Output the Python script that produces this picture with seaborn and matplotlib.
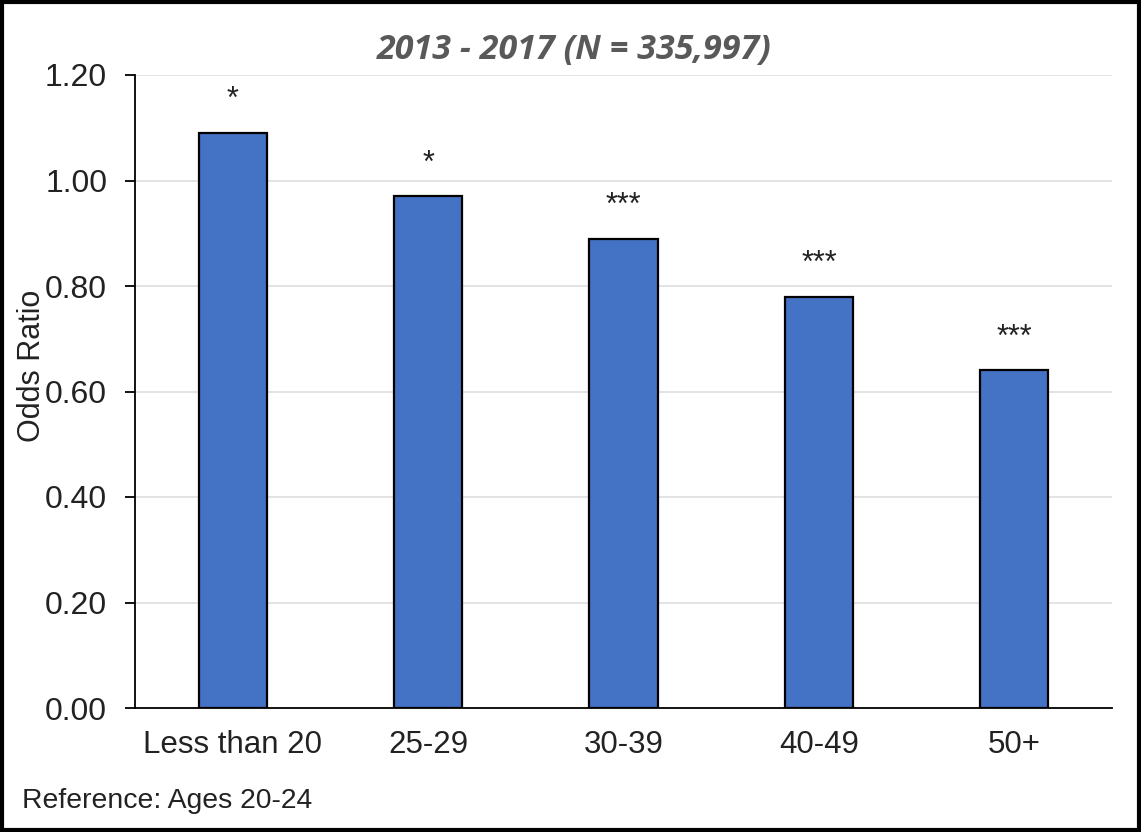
import matplotlib
matplotlib.use("Agg")
import matplotlib.pyplot as plt
import seaborn as sns
import pandas as pd
from matplotlib.patches import Rectangle

categories = ["Less than 20", "25-29", "30-39", "40-49", "50+"]
odds_ratios = [1.09, 0.97, 0.89, 0.78, 0.64]
significance = ["*", "*", "***", "***", "***"]
y_ticks = [0.0, 0.2, 0.4, 0.6, 0.8, 1.0, 1.2]
y_tick_labels = ["0.00", "0.20", "0.40", "0.60", "0.80", "1.00", "1.20"]

sns.set_theme(style="white")
plt.rcParams["font.family"] = ["Liberation Sans", "DejaVu Sans"]

df = pd.DataFrame({"cat": categories, "val": odds_ratios})

fig = plt.figure(figsize=(11.41, 8.32), dpi=100)
ax = fig.add_axes([135 / 1141, 1 - 708 / 832, (1112 - 135) / 1141, (708 - 75) / 832])

sns.barplot(data=df, x="cat", y="val", color="#4472C4", width=0.35,
            edgecolor="black", linewidth=1.6, saturation=1, ax=ax, zorder=3)

ax.set_ylim(0, 1.2)
ax.set_xlim(-0.5, 4.5)
ax.set_yticks(y_ticks)
ax.set_yticklabels(y_tick_labels)
for y in y_ticks[1:]:
    ax.axhline(y, color="#e0e0e0", linewidth=1.3, zorder=0)

ax.tick_params(axis="y", which="both", left=True, length=7, width=1.3, color="black",
               labelsize=23, pad=13, labelcolor="#222222")
ax.tick_params(axis="x", bottom=False, labelsize=22.5, pad=10, labelcolor="#222222")
for s in ["top", "right"]:
    ax.spines[s].set_visible(False)
for s in ["left", "bottom"]:
    ax.spines[s].set_color("black")
    ax.spines[s].set_linewidth(1.3)
ax.set_xlabel("")
ax.set_ylabel("Odds Ratio", fontsize=22, color="#222222")
ax.yaxis.set_label_coords(-0.09, 0.54)

for i, (v, s) in enumerate(zip(odds_ratios, significance)):
    ax.text(i, v + 0.062, s, ha="center", va="center", fontsize=22, color="#222222")

fig.text(0.5035, 1 - 50 / 832, "2013 - 2017 (N = 335,997)", ha="center", va="center",
         fontsize=24.5, fontstyle="italic", fontweight="bold", color="#595959",
         family=["Open Sans", "DejaVu Sans"])

fig.text(22 / 1141, 1 - 801 / 832, "Reference: Ages 20-24", ha="left", va="center",
         fontsize=20.4, color="#222222")

fig.patches.append(Rectangle((0.002, 0.003), 0.996, 0.994, transform=fig.transFigure,
                             fill=False, edgecolor="black", linewidth=3))

fig.savefig("out.png", dpi=100, facecolor="white")
